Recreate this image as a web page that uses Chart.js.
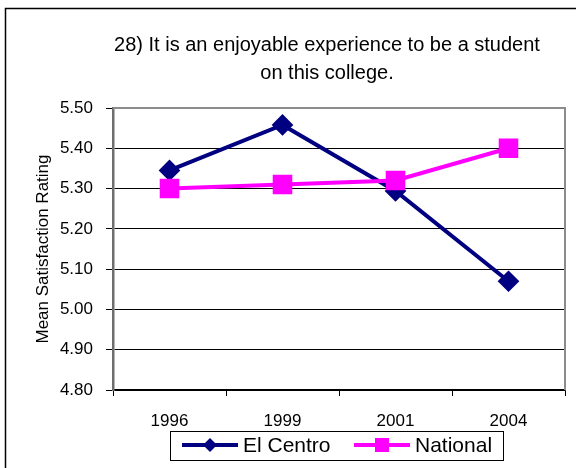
<!DOCTYPE html>
<html>
<head>
<meta charset="utf-8">
<script src="https://cdn.jsdelivr.net/npm/chart.js@4/dist/chart.umd.min.js"></script>
<style>
  html, body { margin: 0; padding: 0; background: #fff; }
  #wrap { width: 576px; height: 468px; }
</style>
</head>
<body>
<div id="wrap"><canvas id="satChart" width="576" height="468"></canvas></div>
<script>
// chart data
let years = ['1996', '1999', '2001', '2004'];
let elCentroData = [5.345, 5.458, 5.294, 5.07];
let nationalData = [5.30, 5.31, 5.32, 5.40];
let yMin = 4.8;
let yMax = 5.5;
let yStep = 0.1;
let titleLines = ['28) It is an enjoyable experience to be a student', 'on this college.'];
let yTitle = 'Mean Satisfaction Rating';

let narrow = "'Liberation Sans Narrow', 'Arial Narrow', 'Liberation Sans', Arial, sans-serif";
let regular = "'Liberation Sans', Arial, sans-serif";

// big markers would otherwise push the plot area in from the right
if (Chart.LineController) {
    Chart.LineController.prototype.getMaxOverflow = function() {
        return 2;
    };
}

// frame, plot box and title
let framePlugin = {
    id: 'frame',
    beforeDraw: function(chart) {
        let ctx = chart.ctx;
        ctx.save();
        ctx.fillStyle = '#fff';
        ctx.fillRect(0, 0, chart.width, chart.height);
        ctx.strokeStyle = '#000';
        ctx.lineWidth = 1.5;
        ctx.strokeRect(5.5, 8.5, 600, 500);

        ctx.fillStyle = '#000';
        ctx.font = '20px ' + regular;
        ctx.textAlign = 'center';
        ctx.textBaseline = 'middle';
        ctx.fillText(titleLines[0], 327, 45);
        ctx.fillText(titleLines[1], 327, 73);
        ctx.restore();
    },
    afterDatasetsDraw: function(chart) {
        let ctx = chart.ctx;
        let a = chart.chartArea;
        ctx.save();
        ctx.strokeStyle = '#8c8c8c';
        ctx.lineWidth = 2;
        ctx.beginPath();
        ctx.moveTo(a.left, a.top);
        ctx.lineTo(a.right, a.top);
        ctx.lineTo(a.right, a.bottom);
        ctx.stroke();
        ctx.restore();
    }
};

// legend in a box like the original
let boxLegend = {
    id: 'boxLegend',
    afterDraw: function(chart) {
        let ctx = chart.ctx;
        ctx.save();
        ctx.fillStyle = '#fff';
        ctx.fillRect(170, 431, 333, 29);
        ctx.strokeStyle = '#000';
        ctx.lineWidth = 1;
        ctx.strokeRect(170.5, 431.5, 333, 29);

        let slots = [{x: 182, text: 243}, {x: 354, text: 415}];
        chart.data.datasets.forEach(function(ds, i) {
            let s = slots[i];
            let y = 445;
            ctx.strokeStyle = ds.borderColor;
            ctx.lineWidth = 4;
            ctx.beginPath();
            ctx.moveTo(s.x, y);
            ctx.lineTo(s.x + 56, y);
            ctx.stroke();
            ctx.fillStyle = ds.borderColor;
            let cx = s.x + 28;
            if (ds.pointStyle === 'rectRot') {
                ctx.beginPath();
                ctx.moveTo(cx - 7, y);
                ctx.lineTo(cx, y - 7);
                ctx.lineTo(cx + 7, y);
                ctx.lineTo(cx, y + 7);
                ctx.closePath();
                ctx.fill();
            } else {
                ctx.fillRect(cx - 7, y - 7, 14, 14);
            }
            ctx.fillStyle = '#000';
            ctx.font = '21px ' + regular;
            ctx.textAlign = 'left';
            ctx.textBaseline = 'middle';
            ctx.fillText(ds.label, s.text, y + 1);
        });
        ctx.restore();
    }
};

let ctx = document.getElementById('satChart').getContext('2d');

let satChart = new Chart(ctx, {
    type: 'line',
    data: {
        labels: years,
        datasets: [{
            label: 'El Centro',
            data: elCentroData,
            borderColor: '#000080',
            backgroundColor: '#000080',
            borderWidth: 4,
            pointStyle: 'rectRot',
            pointRadius: 8,
            pointHoverRadius: 8,
            tension: 0,
            order: 1
        }, {
            label: 'National',
            data: nationalData,
            borderColor: '#ff00ff',
            backgroundColor: '#ff00ff',
            borderWidth: 4,
            pointStyle: 'rect',
            pointRadius: 11,
            pointHoverRadius: 11,
            tension: 0,
            order: 0
        }]
    },
    options: {
        responsive: false,
        animation: false,
        layout: {
            padding: { top: 108, right: 11, bottom: 0, left: 0 }
        },
        plugins: {
            legend: { display: false },
            title: { display: false },
            tooltip: { enabled: false }
        },
        scales: {
            x: {
                offset: true,
                grid: {
                    offset: true,
                    drawOnChartArea: false,
                    color: '#000',
                    tickLength: 6
                },
                border: { color: '#000', width: 1.5 },
                ticks: {
                    color: '#000',
                    font: { family: narrow, size: 17 },
                    padding: 15,
                    maxRotation: 0
                },
                afterFit: function(scale) {
                    scale.height = 78;
                    scale.paddingLeft = 0;
                    scale.paddingRight = 0;
                }
            },
            y: {
                min: yMin,
                max: yMax,
                ticks: {
                    stepSize: yStep,
                    color: '#000',
                    font: { family: narrow, size: 17 },
                    padding: 13,
                    callback: function(value) {
                        return value.toFixed(2);
                    }
                },
                grid: {
                    color: '#000',
                    tickLength: 7
                },
                border: { color: '#6e6e6e', width: 2.5 },
                title: {
                    display: true,
                    text: yTitle,
                    color: '#000',
                    font: { family: narrow, size: 17 },
                    padding: { top: 33, bottom: 0 }
                },
                afterFit: function(scale) {
                    scale.width = 113;
                }
            }
        }
    },
    plugins: [framePlugin, boxLegend]
});
</script>
</body>
</html>
